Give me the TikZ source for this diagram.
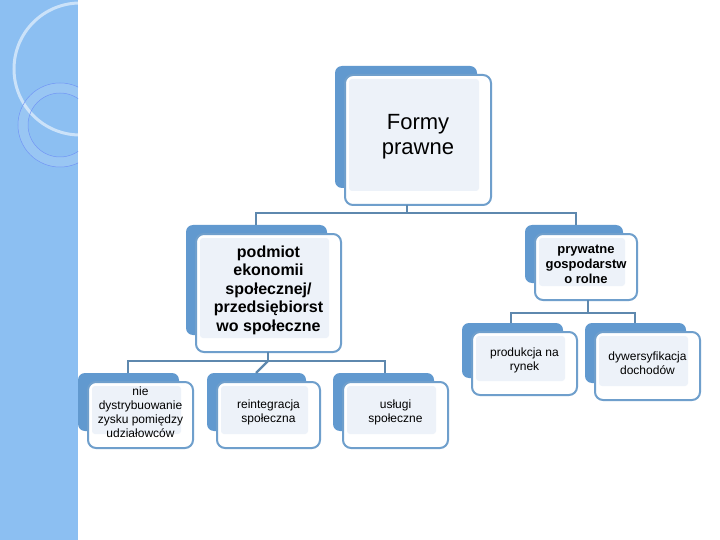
\documentclass[tikz,border=0pt]{standalone}
\usepackage{fontspec}
\setmainfont{Liberation Sans}
\begin{document}
\begin{tikzpicture}[x=1pt,y=-1pt,
  backbox/.style={fill=backblue,rounded corners=7pt},
  frontbox/.style={draw=edgeblue,line width=2pt,fill=white,rounded corners=8pt},
  innerbox/.style={fill=innerfill,rounded corners=3pt},
  conn/.style={draw=connblue,line width=2.2pt},
  bigtxt/.style={align=center,font=\fontsize{22}{25}\selectfont},
  midtxt/.style={align=center,font=\bfseries\fontsize{16}{18.5}\selectfont},
  smtxt/.style={align=center,font=\bfseries\fontsize{13}{15}\selectfont},
  tinytxt/.style={align=center,font=\fontsize{12}{14}\selectfont}]
\definecolor{backblue}{HTML}{6199CF}
\definecolor{edgeblue}{HTML}{6F9FCC}
\definecolor{innerfill}{HTML}{EDF2F9}
\definecolor{connblue}{HTML}{5E88AE}
\definecolor{stripe}{HTML}{8CBFF2}
\useasboundingbox (0,0) rectangle (720,540);
\fill[white] (0,0) rectangle (720,540);
% left stripe
\begin{scope}
\clip (0,0) rectangle (78,540);
\fill[stripe] (0,0) rectangle (78,540);
\fill[white,opacity=0.25] (0,0) rectangle (64,0) arc[start angle=0,end angle=-90,radius=64] -- cycle;
\draw[white,opacity=0.55,line width=3pt] (80,69) circle[radius=66];
\draw[stripe!75!blue,line width=0.5pt] (60,125) circle[radius=42];
\draw[stripe!75!blue,line width=0.5pt] (60,125) circle[radius=32];
\fill[white,opacity=0.12,even odd rule] (60,125) circle[radius=42] (60,125) circle[radius=32];
\end{scope}
% boxes: back, front, inner, text
\newcommand{\mybox}[9]{%
 \fill[backblue,rounded corners=7pt] (#1,#2) rectangle (#3,#4);
 \path[frontbox] (#1+10,#2+9) rectangle (#3+14,#4+17);
 \fill[innerfill,rounded corners=3pt] (#1+14,#2+13) rectangle (#3+2,#4+3);
 \node[#7] (#8) at ({(#1+#3)/2+12},{(#2+#4)/2+10}) {#9};
 \coordinate (#8-t) at ({(#1+#3)/2+12},#2+9);
 \coordinate (#8-b) at ({(#1+#3)/2+12},#4+17);}
\mybox{335}{66}{477}{188}{}{}{bigtxt}{formy}{Formy\\prawne}
\mybox{186}{225}{327}{335}{}{}{midtxt}{podm}{podmiot\\ekonomii\\społecznej/\\przedsiębiorst\\wo społeczne}
\mybox{525}{225}{623}{283}{}{}{smtxt}{pryw}{prywatne\\gospodarstw\\o rolne}
\mybox{78}{373}{179}{431}{}{}{tinytxt}{nie}{nie\\dystrybuowanie\\zysku pomiędzy\\udziałowców}
\mybox{207}{373}{306}{431}{}{}{tinytxt}{rein}{reintegracja\\społeczna}
\mybox{333}{373}{434}{431}{}{}{tinytxt}{uslu}{usługi\\społeczne}
\mybox{462}{323}{563}{378}{}{}{tinytxt}{prod}{produkcja na\\rynek}
\mybox{585}{323}{686}{383}{}{}{tinytxt}{dyw}{dywersyfikacja\\dochodów}
% connectors
\coordinate (j1) at (407,213);
\coordinate (j2) at (268,361);
\coordinate (j3) at (588,313);
\draw[conn] (407,205) -- (j1);
\draw[conn] (256,225) |- (j1) -| (576,225);
\draw[conn] (268,352) -- (j2);
\draw[conn] (128,373) |- (j2) -| (385,373);
\draw[conn] (j2) -- (256,373);
\draw[conn] (588,300) -- (j3);
\draw[conn] (511,323) |- (j3) -| (635,323);
\end{tikzpicture}
\end{document}
